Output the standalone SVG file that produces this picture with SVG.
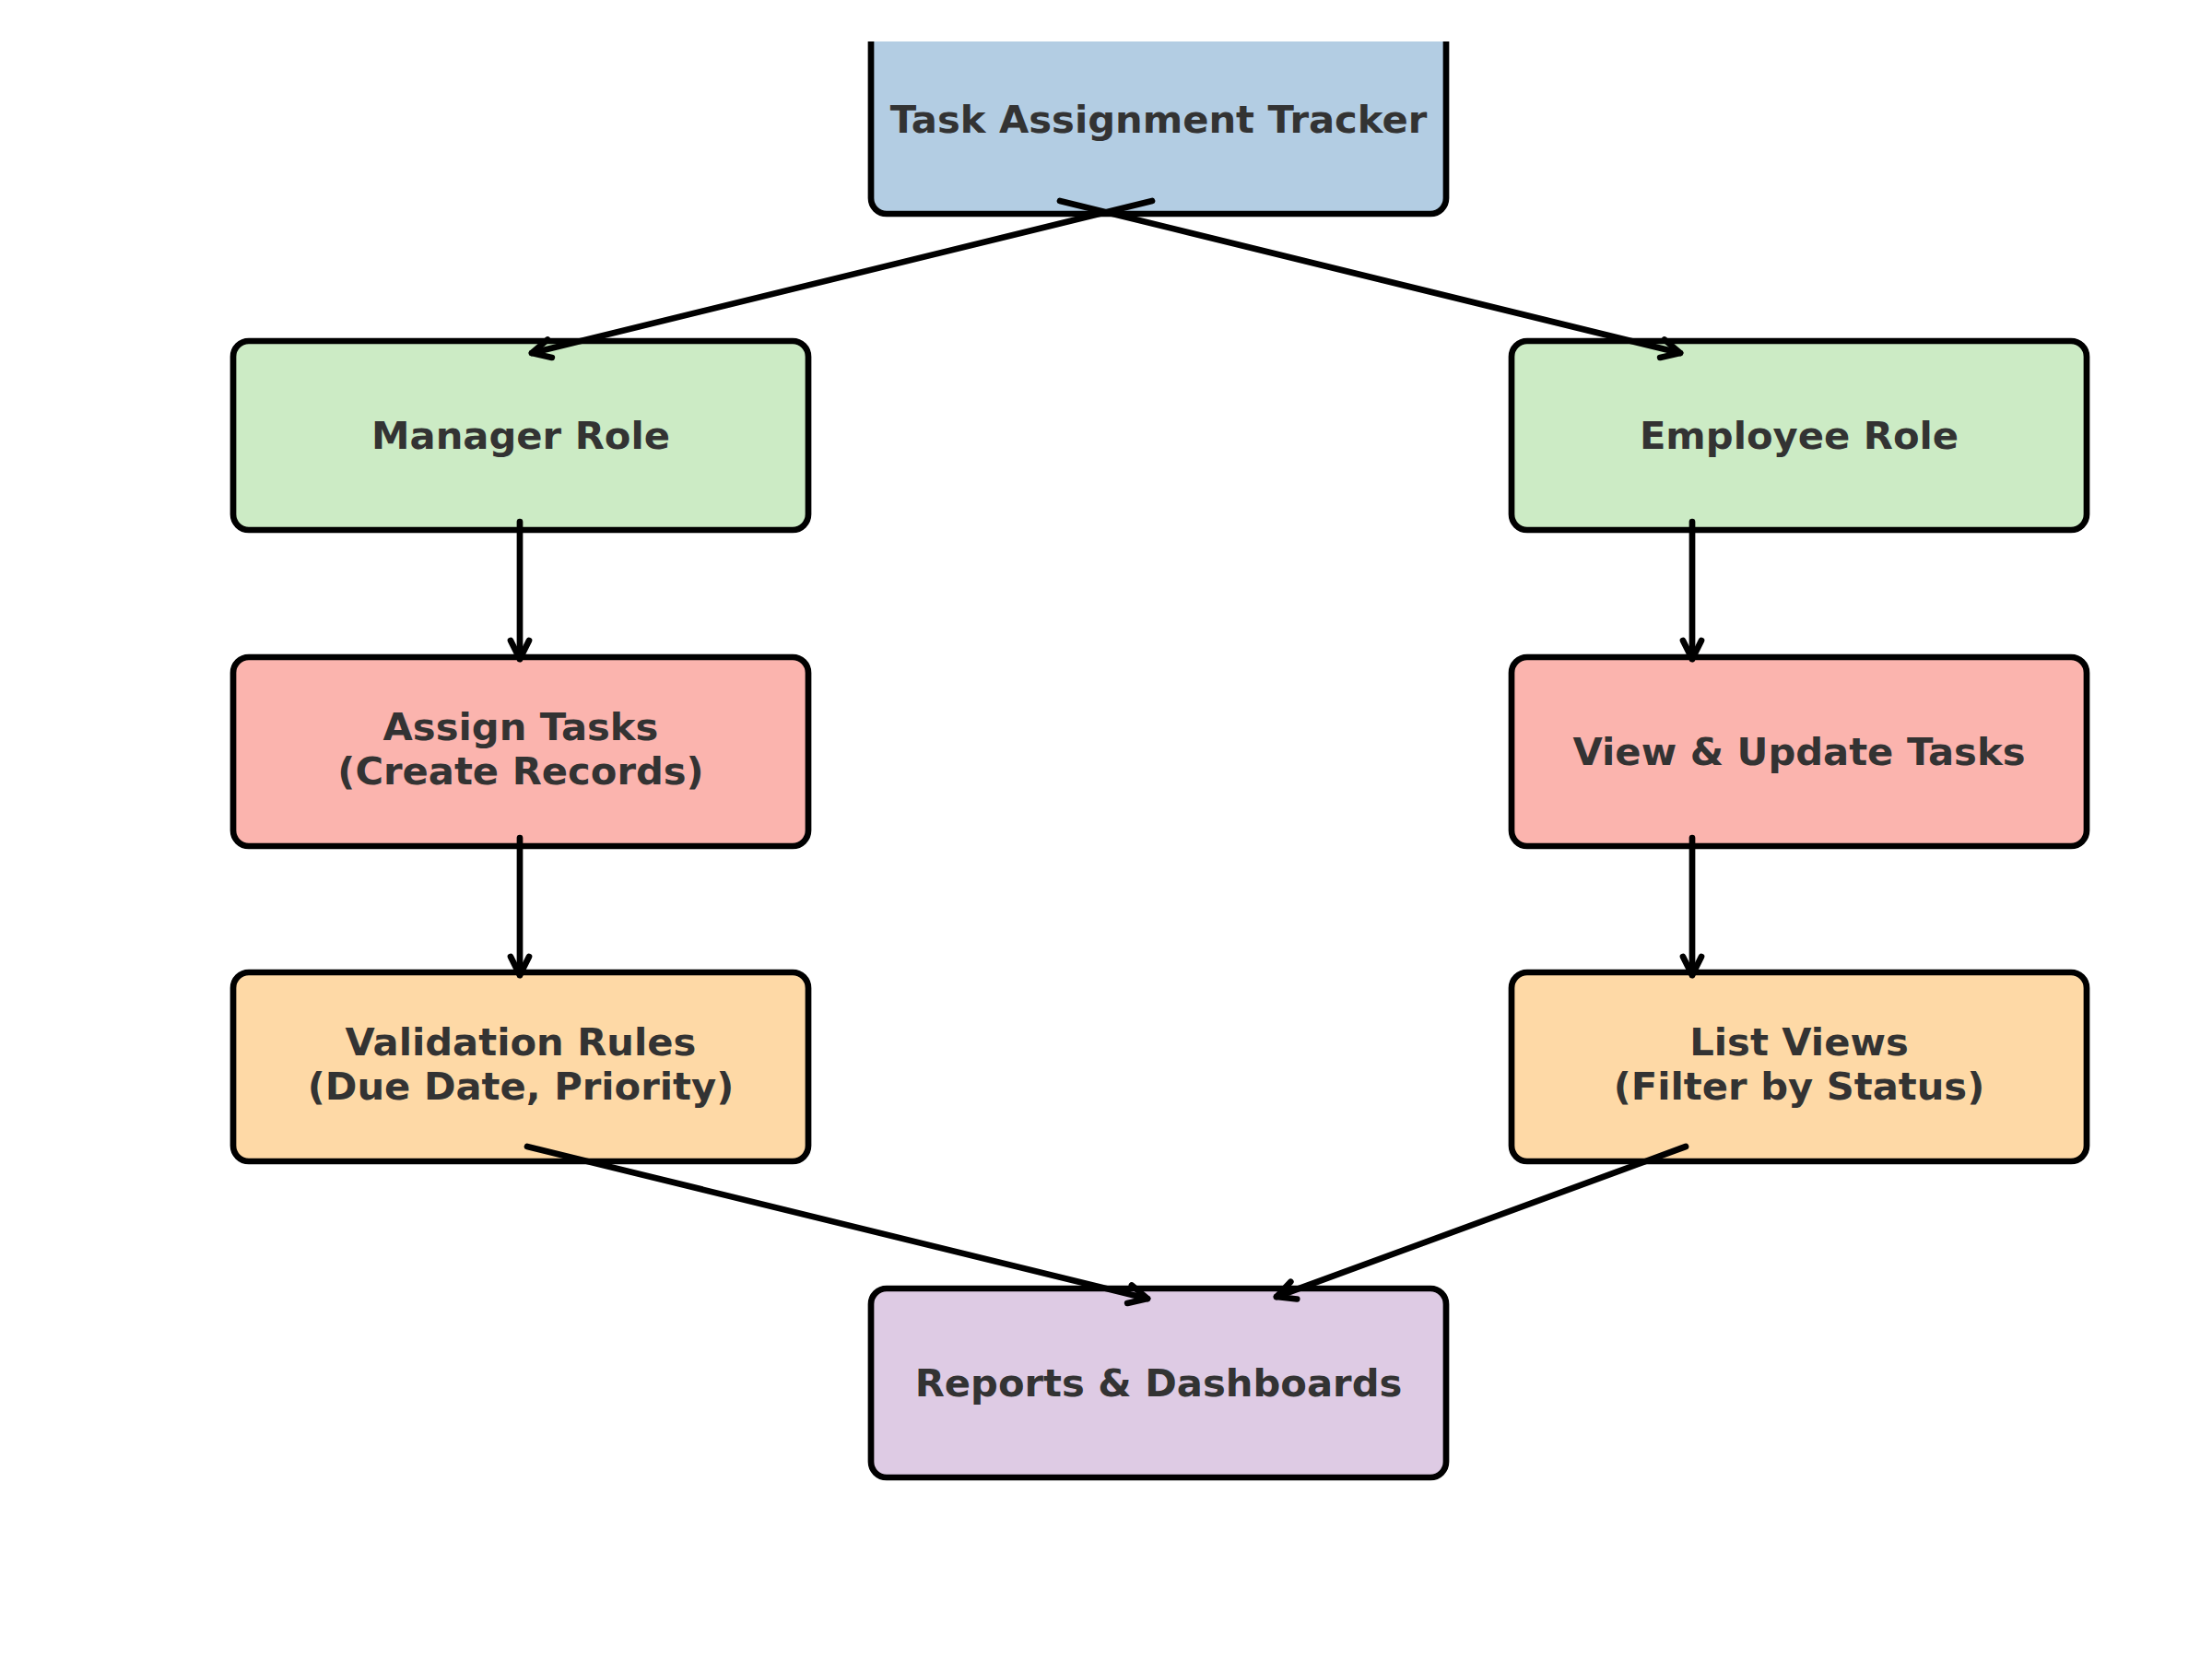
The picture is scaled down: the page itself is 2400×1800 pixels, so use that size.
<svg xmlns="http://www.w3.org/2000/svg" width="2400" height="1800" viewBox="0 0 2400 1800">
<defs>
<style>
.box{stroke:#000;stroke-width:6.7;}
.lbl{font-family:"DejaVu Sans",sans-serif;font-weight:bold;font-size:41.7px;fill:#333333;text-anchor:middle;}
.conn line{stroke:#000;stroke-width:6.7;stroke-linecap:round;fill:none;marker-end:url(#arr);}
</style>
<marker id="arr" markerUnits="userSpaceOnUse" viewBox="-30 -20 40 40" refX="0" refY="0" markerWidth="40" markerHeight="40" orient="auto" overflow="visible">
<path d="M -20 -10 L 0 0 L -20 10" fill="none" stroke="#000" stroke-width="6.7" stroke-linecap="round" stroke-linejoin="round"/>
</marker>
<clipPath id="axclip"><rect x="0" y="45" width="2400" height="1755"/></clipPath>
</defs>
<rect width="2400" height="1800" fill="#fff"/>
<g id="node-tracker" clip-path="url(#axclip)">
<rect class="box" x="945" y="27" width="624" height="205" rx="17" fill="#b3cde3"/>
<text class="lbl" x="1257" y="144">Task Assignment Tracker</text>
</g>
<g id="node-manager">
<rect class="box" x="253" y="370" width="624" height="205" rx="17" fill="#ccebc5"/>
<text class="lbl" x="565" y="487">Manager Role</text>
</g>
<g id="node-employee">
<rect class="box" x="1640" y="370" width="624" height="205" rx="17" fill="#ccebc5"/>
<text class="lbl" x="1952" y="487">Employee Role</text>
</g>
<g id="node-assign">
<rect class="box" x="253" y="713" width="624" height="205" rx="17" fill="#fbb4ae"/>
<text class="lbl" x="565" y="803">Assign Tasks</text>
<text class="lbl" x="565" y="851">(Create Records)</text>
</g>
<g id="node-view">
<rect class="box" x="1640" y="713" width="624" height="205" rx="17" fill="#fbb4ae"/>
<text class="lbl" x="1952" y="830">View &amp; Update Tasks</text>
</g>
<g id="node-validation">
<rect class="box" x="253" y="1055" width="624" height="205" rx="17" fill="#fed9a6"/>
<text class="lbl" x="565" y="1145">Validation Rules</text>
<text class="lbl" x="565" y="1193">(Due Date, Priority)</text>
</g>
<g id="node-listviews">
<rect class="box" x="1640" y="1055" width="624" height="205" rx="17" fill="#fed9a6"/>
<text class="lbl" x="1952" y="1145">List Views</text>
<text class="lbl" x="1952" y="1193">(Filter by Status)</text>
</g>
<g id="node-reports">
<rect class="box" x="945" y="1398" width="624" height="205" rx="17" fill="#decbe4"/>
<text class="lbl" x="1257" y="1515">Reports &amp; Dashboards</text>
</g>
<g id="connectors" class="conn">
<line x1="1250" y1="218" x2="577" y2="383"/>
<line x1="1150" y1="218" x2="1823" y2="383"/>
<line x1="564" y1="566" x2="564" y2="715"/>
<line x1="564" y1="909" x2="564" y2="1058"/>
<line x1="1836" y1="566" x2="1836" y2="715"/>
<line x1="1836" y1="909" x2="1836" y2="1058"/>
<line x1="572" y1="1244" x2="1245" y2="1409"/>
<line x1="1829" y1="1244" x2="1385" y2="1407"/>
</g>
</svg>
